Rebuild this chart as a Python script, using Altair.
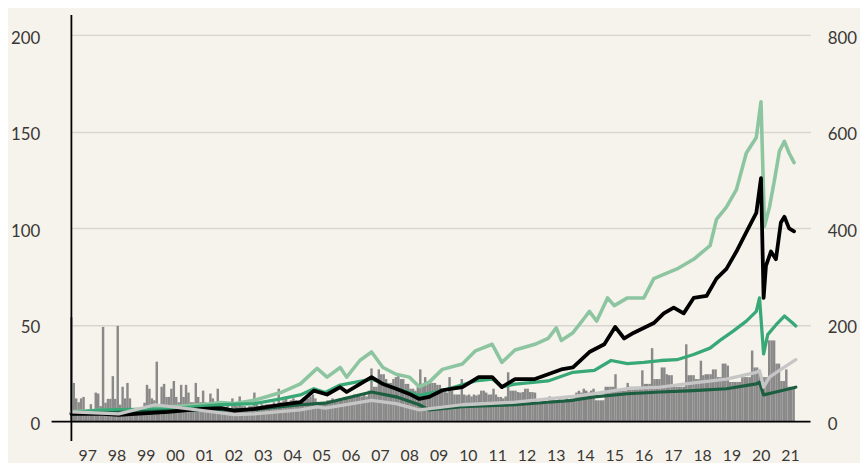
import altair as alt
import pandas as pd

# ---------------- data ----------------
# Monthly bars (right-hand scale), starting June 1996
bars_1996 = [216, 80, 48, 40, 48, 51, 24]
bars_1997 = [24, 36, 26, 60, 58, 32, 196, 39, 47, 47, 94, 47]
bars_1998 = [198, 35, 72, 48, 80, 48, 24, 24, 28, 20, 24, 39]
bars_1999 = [76, 68, 48, 44, 124, 35, 72, 78, 51, 51, 68, 84]
bars_2000 = [51, 40, 76, 51, 76, 60, 40, 40, 80, 51, 40, 64]
bars_2001 = [40, 35, 58, 48, 32, 68, 30, 30, 30, 36, 28, 48]
bars_2002 = [40, 32, 52, 32, 32, 28, 32, 32, 60, 35, 32, 36]
bars_2003 = [34, 36, 36, 36, 40, 36, 68, 40, 44, 48, 40, 44]
bars_2004 = [48, 44, 40, 44, 44, 48, 48, 52, 56, 48, 40, 36]
bars_2005 = [36, 40, 44, 44, 48, 44, 44, 48, 44, 51, 51, 52]
bars_2006 = [52, 56, 52, 56, 52, 56, 52, 64, 110, 72, 72, 108]
bars_2007 = [98, 98, 88, 80, 80, 88, 92, 96, 88, 88, 78, 78]
bars_2008 = [68, 68, 64, 72, 108, 78, 92, 84, 84, 80, 80, 76]
bars_2009 = [76, 68, 68, 60, 92, 64, 56, 56, 56, 88, 56, 54]
bars_2010 = [56, 52, 56, 54, 56, 64, 64, 60, 56, 56, 68, 56]
bars_2011 = [51, 51, 48, 52, 102, 64, 64, 64, 61, 60, 61, 68]
bars_2012 = [68, 61, 61, 60, 37, 37, 40, 37, 37, 52, 48, 44]
bars_2013 = [44, 46, 44, 44, 48, 44, 48, 48, 60, 64, 60, 68]
bars_2014 = [64, 60, 64, 68, 44, 44, 44, 44, 72, 72, 72, 72]
bars_2015 = [98, 64, 64, 64, 64, 80, 72, 72, 72, 72, 72, 106]
bars_2016 = [78, 78, 78, 152, 88, 88, 88, 112, 112, 98, 96, 96]
bars_2017 = [72, 72, 72, 72, 72, 160, 96, 96, 96, 88, 88, 126]
bars_2018 = [96, 98, 98, 98, 108, 108, 92, 92, 120, 120, 116, 82]
bars_2019 = [82, 82, 82, 82, 92, 92, 92, 92, 147, 112, 112, 100]
bars_2020 = [92, 92, 92, 168, 168, 168, 120, 120, 84, 84, 108, 72]
bars_2021 = [72, 72]

bar_values = (bars_1996 + bars_1997 + bars_1998 + bars_1999 + bars_2000 + bars_2001
              + bars_2002 + bars_2003 + bars_2004 + bars_2005 + bars_2006 + bars_2007
              + bars_2008 + bars_2009 + bars_2010 + bars_2011 + bars_2012 + bars_2013
              + bars_2014 + bars_2015 + bars_2016 + bars_2017 + bars_2018 + bars_2019
              + bars_2020 + bars_2021)

# Lines (left-hand scale): decimal year, value
lg_t = [1996.46, 1997.52, 1998.65, 1999.77, 2000.90, 2001.58, 2002.03, 2002.71, 2003.61,
        2004.28, 2004.85, 2005.19, 2005.64, 2005.86, 2006.31, 2006.71, 2007.10, 2007.55,
        2008.00, 2008.34, 2008.68, 2009.13, 2009.81, 2010.26, 2010.83, 2011.16, 2011.61,
        2012.29, 2012.74, 2013.02, 2013.19, 2013.59, 2014.00, 2014.15, 2014.40, 2014.77,
        2015.00, 2015.45, 2016.01, 2016.35, 2017.14, 2017.71, 2018.27, 2018.49, 2018.83,
        2019.17, 2019.51, 2019.85, 2020.01, 2020.13, 2020.30, 2020.47, 2020.64, 2020.81,
        2020.97, 2021.14]
lg_v = [5, 6, 6, 7.6, 8.7, 9.8, 9.3, 11, 15,
        19.5, 27.5, 23, 28, 23, 31.6, 36, 28, 24.5,
        23, 18, 20.4, 27, 29.8, 36.6, 40, 30.6, 37,
        40, 43, 48.5, 42, 46, 54, 57, 52, 64,
        60, 64, 64, 74, 79, 84, 91, 104.6, 111,
        120, 139, 147, 165.5, 101, 111, 125, 140, 145,
        139, 134]

blk_t = [1996.46, 1997.52, 1998.08, 1999.77, 2000.90, 2001.58, 2002.03, 2002.71, 2003.61,
         2004.28, 2004.74, 2005.19, 2005.64, 2005.86, 2006.31, 2006.71, 2007.10, 2007.55,
         2008.00, 2008.34, 2008.68, 2009.13, 2009.81, 2010.37, 2010.83, 2011.16, 2011.61,
         2012.29, 2012.74, 2013.19, 2013.59, 2014.15, 2014.66, 2015.03, 2015.34, 2015.67,
         2016.35, 2016.69, 2017.03, 2017.37, 2017.71, 2018.15, 2018.49, 2018.83, 2019.17,
         2019.51, 2019.85, 2020.01, 2020.10, 2020.18, 2020.35, 2020.52, 2020.69, 2020.81,
         2020.97, 2021.14]
blk_v = [4, 4, 3.5, 5, 6.6, 7, 5.6, 6.6, 8.7,
         10, 16, 14, 17.8, 15.3, 19.4, 23, 19.4, 17,
         14.3, 11.7, 12.8, 16.2, 17.8, 23, 23, 17.8, 22,
         22, 24.5, 27, 28, 36, 40, 49, 43, 46,
         51, 56, 59, 56, 64, 65, 74, 79, 88,
         98, 108, 126, 64, 80.6, 88, 84, 103, 106,
         100, 98.5]

mg_t = [1996.46, 1997.52, 1999.77, 2001.58, 2002.71, 2003.61, 2004.28, 2004.74, 2005.13,
        2005.64, 2006.71, 2007.55, 2008.34, 2009.13, 2010.26, 2010.83, 2011.16, 2011.61,
        2012.74, 2013.59, 2014.32, 2014.89, 2015.45, 2016.01, 2016.58, 2017.14, 2017.71,
        2018.27, 2018.61, 2019.06, 2019.51, 2019.85, 2019.96, 2020.10, 2020.24, 2020.52,
        2020.81, 2021.09, 2021.20]
mg_v = [4.6, 6, 6.6, 8.7, 9.3, 11.7, 13.8, 17, 15,
        18.9, 22, 17, 13.6, 16, 21, 22, 18, 19.4,
        21, 25.5, 26.5, 31.6, 30, 30.6, 31.6, 32, 34.7,
        38, 42, 46.8, 52, 57, 64, 35, 45, 50,
        54.6, 51, 49.5]

dg_t = [1996.46, 1999.77, 2001.58, 2002.71, 2004.28, 2004.85, 2005.13, 2006.71, 2007.55,
        2008.34, 2008.68, 2009.81, 2011.61, 2012.74, 2013.59, 2014.32, 2015.45, 2016.58,
        2017.71, 2018.83, 2019.85, 2019.96, 2020.10, 2020.52, 2021.20]
dg_v = [4, 5.6, 6, 6.3, 8.7, 9.3, 9.5, 15.3, 12.8,
        8.7, 6, 7.7, 8.7, 10, 11, 12.8, 14.4, 15.3,
        16, 17, 19.5, 20.4, 13.8, 15.3, 17.8]

gr_t = [1996.46, 1998.08, 1999.32, 2000.34, 2002.03, 2002.71, 2004.28, 2004.85, 2005.13,
        2006.71, 2007.55, 2008.34, 2009.81, 2011.61, 2013.59, 2014.32, 2015.45, 2016.58,
        2017.71, 2018.83, 2019.85, 2019.96, 2020.10, 2020.30, 2020.64, 2021.20]
gr_v = [5, 4, 8.7, 6.8, 3.6, 4, 6, 7.6, 7,
        11, 9.3, 6, 8.7, 10, 13, 14.4, 17, 17.8,
        20, 22, 25.5, 26.5, 17.8, 23, 26.5, 32]

year_ticks = list(range(1997, 2022))
left_ticks = [0, 50, 100, 150, 200]
right_ticks = [0, 200, 400, 600, 800]

# ---------------- styling ----------------
BG = "#f6f3ec"
TXT = "#3a3836"
FONT = "Lato"
W, H = 746, 430
X_DOMAIN = [1996.46, 2021.70]
YL_DOMAIN = [-10.1, 210.4]
YR_DOMAIN = [-40.4, 841.6]

bar_df = pd.DataFrame({
    "t0": [1996 + (5 + i) / 12 for i in range(len(bar_values))],
    "v": bar_values,
})
bar_df["t1"] = bar_df["t0"] + 1 / 12

xscale = alt.Scale(domain=X_DOMAIN, nice=False, zero=False)
yl = alt.Scale(domain=YL_DOMAIN, nice=False, zero=False)
yr = alt.Scale(domain=YR_DOMAIN, nice=False, zero=False)

x_axis = alt.Axis(values=year_ticks, labelExpr="slice(toString(datum.value), 2)",
                  domain=False, ticks=False, grid=False, title=None,
                  labelFontSize=16, labelPadding=7, labelFlush=False)

right_axis = alt.Axis(orient="right", values=right_ticks, title=None,
                      domain=False, ticks=False, grid=False,
                      labelPadding=17, labelOffset=3, labelFontSize=17)

left_axis = alt.Axis(orient="left", values=left_ticks, title=None, domain=False, ticks=False,
                     grid=True, gridColor="#d8d5cf", gridWidth=1.5,
                     labelPadding=32, labelOffset=3, labelFontSize=17)

bars = alt.Chart(bar_df).mark_rect(color="#898989").encode(
    x=alt.X("t0:Q", scale=xscale, axis=x_axis),
    x2="t1:Q",
    y=alt.Y("v:Q", scale=yr, axis=right_axis),
    y2=alt.datum(0),
)


def line(t, v, color, width):
    df = pd.DataFrame({"t": t, "v": v})
    return alt.Chart(df).mark_line(color=color, strokeWidth=width, strokeJoin="round",
                                   strokeCap="round").encode(
        x=alt.X("t:Q", scale=xscale, axis=x_axis),
        y=alt.Y("v:Q", scale=yl, axis=left_axis),
    )


zero_rule = alt.Chart(pd.DataFrame({"z": [0]})).mark_rule(color="#000000", strokeWidth=1.8).encode(
    x=alt.value(-20), x2=alt.value(W), y=alt.Y("z:Q", scale=yl, axis=left_axis))
vline = alt.Chart(pd.DataFrame({"z": [0]})).mark_rule(color="#000000", strokeWidth=1.8).encode(
    x=alt.value(0), y=alt.value(0), y2=alt.value(H))

lines = alt.layer(
    line(lg_t, lg_v, "#8cc5a0", 3.6),
    line(mg_t, mg_v, "#39a877", 3.3),
    line(dg_t, dg_v, "#1c5e40", 3.2),
    line(blk_t, blk_v, "#000000", 3.8),
    line(gr_t, gr_v, "#c6c6c6", 3.3),
    zero_rule,
    vline,
)

chart = alt.layer(bars, lines).resolve_scale(y="independent").properties(
    width=W, height=H,
    background=BG,
    autosize=alt.AutoSizeParams(type="none"),
    padding={"left": 64, "top": 5, "right": 50, "bottom": 20},
).configure_view(strokeWidth=0).configure_axis(
    labelFont=FONT, labelColor=TXT,
)

chart.save("out.html", embed_options={"renderer": "svg", "actions": False})
